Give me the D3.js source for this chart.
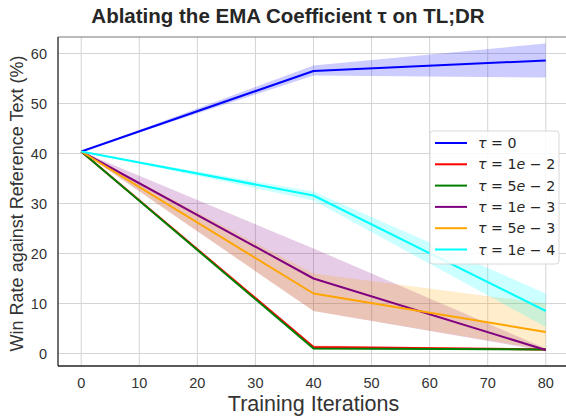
<!DOCTYPE html>
<html>
<head>
<meta charset="utf-8">
<script src="https://cdn.jsdelivr.net/npm/d3@7"></script>
<style>
  body { margin: 0; background: #fff; }
  svg { font-family: "Liberation Sans", Arial, sans-serif; }
</style>
</head>
<body>
<div id="chart"></div>
<script>
// training iterations where win rate was measured
const iterations = [0, 40, 80];

// legend labels and colours
const labels = ["0", "1e-2", "5e-2", "1e-3", "5e-3", "1e-4"];
const colors = ["blue", "red", "green", "purple", "orange", "cyan"];

// mean win rate per tau
const meanTau0 = [40.4, 56.5, 58.6];
const meanTau1e2 = [40.4, 1.3, 0.8];
const meanTau5e2 = [40.4, 1.0, 0.8];
const meanTau1e3 = [40.4, 15.0, 0.7];
const meanTau5e3 = [40.4, 12.0, 4.3];
const meanTau1e4 = [40.4, 31.6, 8.5];

// shaded band lower / upper
const lowTau0 = [40.4, 55.6, 55.2], highTau0 = [40.4, 57.6, 62.0];
const lowTau1e2 = [40.4, 1.0, 0.6], highTau1e2 = [40.4, 1.6, 1.0];
const lowTau5e2 = [40.4, 0.8, 0.6], highTau5e2 = [40.4, 1.2, 1.0];
const lowTau1e3 = [40.4, 8.5, 0.5], highTau1e3 = [40.4, 21.0, 1.0];
const lowTau5e3 = [40.4, 8.5, 0.7], highTau5e3 = [40.4, 16.0, 10.0];
const lowTau1e4 = [40.4, 30.6, 5.3], highTau1e4 = [40.4, 32.4, 12.0];

const xTicks = [0, 10, 20, 30, 40, 50, 60, 70, 80];
const yTicks = [0, 10, 20, 30, 40, 50, 60];

const means = [meanTau0, meanTau1e2, meanTau5e2, meanTau1e3, meanTau5e3, meanTau1e4];
const lows = [lowTau0, lowTau1e2, lowTau5e2, lowTau1e3, lowTau5e3, lowTau1e4];
const highs = [highTau0, highTau1e2, highTau5e2, highTau1e3, highTau5e3, highTau1e4];

const series = labels.map((l, i) => ({
    label: l,
    color: colors[i],
    points: iterations.map((it, j) => ({ x: it, y: means[i][j], lo: lows[i][j], hi: highs[i][j] }))
}));

const W = 566, H = 418;
const margin = { top: 37, right: -3, bottom: 52, left: 58 },
    width = W - margin.left - margin.right,
    height = H - margin.top - margin.bottom;

const svg = d3.select("#chart")
    .append("svg")
    .attr("width", W)
    .attr("height", H);

const g = svg.append("g")
    .attr("transform", `translate(${margin.left},${margin.top})`);

const x = d3.scaleLinear().domain([-4, 84]).range([0, width]);
const y = d3.scaleLinear().domain([-2.5, 63.3]).range([height, 0]);

// grid
g.append("g").selectAll("line")
    .data(xTicks).join("line")
    .attr("x1", d => x(d)).attr("x2", d => x(d))
    .attr("y1", 0).attr("y2", height)
    .attr("stroke", "#d4d4d4").attr("stroke-width", 1);
g.append("g").selectAll("line")
    .data(yTicks).join("line")
    .attr("x1", 0).attr("x2", width)
    .attr("y1", d => y(d)).attr("y2", d => y(d))
    .attr("stroke", "#d4d4d4").attr("stroke-width", 1);

// bands
const area = d3.area()
    .x(d => x(d.x))
    .y0(d => y(d.lo))
    .y1(d => y(d.hi));

g.append("g").selectAll("path")
    .data(series).join("path")
    .attr("d", d => area(d.points))
    .attr("fill", d => d.color)
    .attr("fill-opacity", 0.2)
    .attr("stroke", "none");

// lines
const line = d3.line()
    .x(d => x(d.x))
    .y(d => y(d.y));

g.append("g").selectAll("path")
    .data(series).join("path")
    .attr("d", d => line(d.points))
    .attr("fill", "none")
    .attr("stroke", d => d.color)
    .attr("stroke-width", 2)
    .attr("stroke-linejoin", "round");

// spines
g.append("line").attr("x1", 0).attr("x2", width).attr("y1", 0).attr("y2", 0)
    .attr("stroke", "#777").attr("stroke-width", 1);
g.append("line").attr("x1", 0).attr("x2", 0).attr("y1", 0).attr("y2", height)
    .attr("stroke", "#222").attr("stroke-width", 1.3);
g.append("line").attr("x1", 0).attr("x2", width).attr("y1", height).attr("y2", height)
    .attr("stroke", "#222").attr("stroke-width", 1.3);

// tick labels
g.append("g").selectAll("text")
    .data(xTicks).join("text")
    .attr("x", d => x(d))
    .attr("y", height + 22)
    .attr("text-anchor", "middle")
    .attr("font-size", 14.5)
    .attr("fill", "#333")
    .text(d => d);

g.append("g").selectAll("text")
    .data(yTicks).join("text")
    .attr("x", -11)
    .attr("y", d => y(d) + 5)
    .attr("text-anchor", "end")
    .attr("font-size", 14.5)
    .attr("fill", "#333")
    .text(d => d);

// axis labels and title
svg.append("text")
    .attr("x", margin.left + x(40))
    .attr("y", 411)
    .attr("text-anchor", "middle")
    .attr("font-size", 21.5)
    .attr("fill", "#333")
    .text("Training Iterations");

svg.append("text")
    .attr("transform", `translate(23, ${margin.top + height / 2 + 2}) rotate(-90)`)
    .attr("text-anchor", "middle")
    .attr("font-size", 18)
    .attr("fill", "#333")
    .text("Win Rate against Reference Text (%)");

svg.append("text")
    .attr("x", 288)
    .attr("y", 23)
    .attr("text-anchor", "middle")
    .attr("font-size", 20.5)
    .attr("font-weight", "bold")
    .attr("fill", "#262626")
    .text("Ablating the EMA Coefficient τ on TL;DR");

// legend
const legend = svg.append("g").attr("transform", "translate(430, 131)");
legend.append("rect")
    .attr("width", 129).attr("height", 133)
    .attr("rx", 3)
    .attr("fill", "#fff").attr("fill-opacity", 0.85)
    .attr("stroke", "#d8d8d8");

const rows = legend.selectAll("g.row")
    .data(series).join("g")
    .attr("class", "row")
    .attr("transform", (d, i) => `translate(0, ${12 + i * 21.3})`);

rows.append("line")
    .attr("x1", 5).attr("x2", 37)
    .attr("stroke", d => d.color)
    .attr("stroke-width", 2);

rows.each(function(d) {
    const t = d3.select(this).append("text")
        .attr("x", 48).attr("y", 5)
        .attr("font-family", "DejaVu Sans")
        .attr("font-size", 14.2)
        .attr("fill", "#262626");
    t.append("tspan").attr("font-style", "italic").text("τ");
    t.append("tspan").text(" = ");
    const parts = d.label.split("e-");
    if (parts.length === 1) {
        t.append("tspan").text(parts[0]);
    } else {
        t.append("tspan").text(parts[0]);
        t.append("tspan").attr("font-style", "italic").text("e");
        t.append("tspan").text(" − " + parts[1]);
    }
});
</script>
</body>
</html>
